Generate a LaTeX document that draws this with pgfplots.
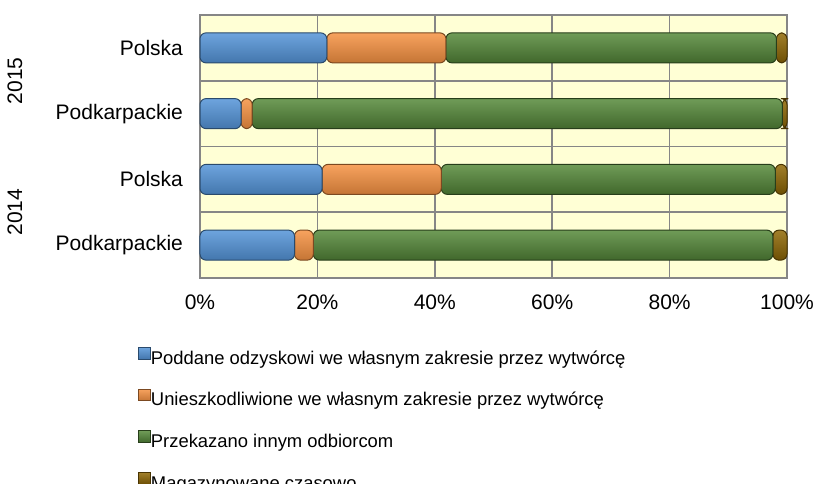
\documentclass[border=0pt]{standalone}
\usepackage{fontspec}
\setmainfont{Liberation Sans}
\usepackage{pgfplots}
\pgfplotsset{compat=1.18}
\definecolor{cBlue}{RGB}{84,148,216}
\definecolor{cOrange}{RGB}{246,146,66}
\definecolor{cGreen}{RGB}{86,138,58}
\definecolor{cBrown}{RGB}{145,105,5}
\definecolor{bgY}{RGB}{255,255,213}
\definecolor{gridG}{RGB}{134,134,134}
\pgfplotsset{
  base/.style={
    at={(100pt,102.5pt)}, anchor=south west,
    scale only axis, width=293.5pt, height=131.5pt,
    xbar stacked, bar width=15pt,
    xmin=0, xmax=100, ymin=-0.5, ymax=3.5, clip=false},
  sBlue/.style={draw=cBlue!50!black, line width=0.5pt, top color=cBlue!85!white, middle color=cBlue, bottom color=cBlue!80!black, rounded corners=3pt},
  sOrange/.style={draw=cOrange!50!black, line width=0.5pt, top color=cOrange!85!white, middle color=cOrange, bottom color=cOrange!80!black, rounded corners=3pt},
  sGreen/.style={draw=cGreen!45!black, line width=0.5pt, top color=cGreen!85!white, middle color=cGreen, bottom color=cGreen!75!black, rounded corners=3pt},
  sBrown/.style={draw=cBrown!50!black, line width=0.5pt, top color=cBrown!85!white, middle color=cBrown, bottom color=cBrown!75!black, rounded corners=3pt},
}
\begin{document}
\begin{tikzpicture}
\useasboundingbox (0,0) rectangle (407pt,241.5pt);
\clip (0,0) rectangle (407pt,241.5pt);
% row 0: Podkarpackie 2014 (with axis, grid, legend)
\begin{axis}[base,
  axis background/.style={fill=bgY},
  axis line style={gridG, line width=0.8pt},
  xtick={0,20,40,60,80,100},
  xticklabels={0\%,20\%,40\%,60\%,80\%,100\%},
  ytick={0,1,2,3},
  yticklabels={Podkarpackie,Polska,Podkarpackie,Polska},
  minor ytick={0.5,1.5,2.5},
  major tick length=0pt, minor tick length=0pt,
  xmajorgrids, yminorgrids,
  grid style={gridG, line width=0.8pt},
  minor grid style={gridG, line width=0.8pt},
  tick label style={font=\fontsize{10.5}{12}\selectfont},
  xticklabel style={yshift=-5pt},
  yticklabel style={xshift=-5pt},
  legend style={at={(-0.105,-0.262)}, anchor=north west, draw=none, fill=none,
    inner sep=0pt, outer sep=0pt, row sep=9.8pt,
    font=\fontsize{9.2}{11}\selectfont,
    nodes={inner sep=0pt, text height=7.5pt, text depth=2.5pt},
    /tikz/every even column/.append style={column sep=3pt}},
  legend cell align=left,
  legend image code/.code={\path[#1, rounded corners=0pt] (0,0) rectangle (5.8pt,5.8pt);},
]
\addplot[sBlue] coordinates {(16.1,0)};
\addplot[sOrange] coordinates {(3.2,0)};
\addplot[sGreen] coordinates {(78.3,0)};
\addplot[sBrown] coordinates {(2.4,0)};
\legend{Poddane odzyskowi we własnym zakresie przez wytwórcę,
  Unieszkodliwione we własnym zakresie przez wytwórcę,
  Przekazano innym odbiorcom,
  Magazynowane czasowo}
\node[rotate=90, font=\fontsize{10.5}{12}\selectfont] at ([xshift=-92.5pt]rel axis cs:0,0.75) {2015};
\node[rotate=90, font=\fontsize{10.5}{12}\selectfont] at ([xshift=-92.5pt]rel axis cs:0,0.25) {2014};
\end{axis}
% row 1: Polska 2014
\begin{axis}[base, hide axis]
\addplot[sBlue] coordinates {(20.8,1)};
\addplot[sOrange] coordinates {(20.3,1)};
\addplot[sGreen] coordinates {(56.9,1)};
\addplot[sBrown] coordinates {(2.0,1)};
\end{axis}
% row 2: Podkarpackie 2015
\begin{axis}[base, hide axis]
\addplot[sBlue] coordinates {(7.0,2)};
\addplot[sOrange] coordinates {(1.9,2)};
\addplot[sGreen] coordinates {(90.3,2)};
\addplot[sBrown] coordinates {(0.8,2)};
\end{axis}
% row 3: Polska 2015
\begin{axis}[base, hide axis]
\addplot[sBlue] coordinates {(21.6,3)};
\addplot[sOrange] coordinates {(20.3,3)};
\addplot[sGreen] coordinates {(56.3,3)};
\addplot[sBrown] coordinates {(1.8,3)};
\end{axis}
\end{tikzpicture}
\end{document}
